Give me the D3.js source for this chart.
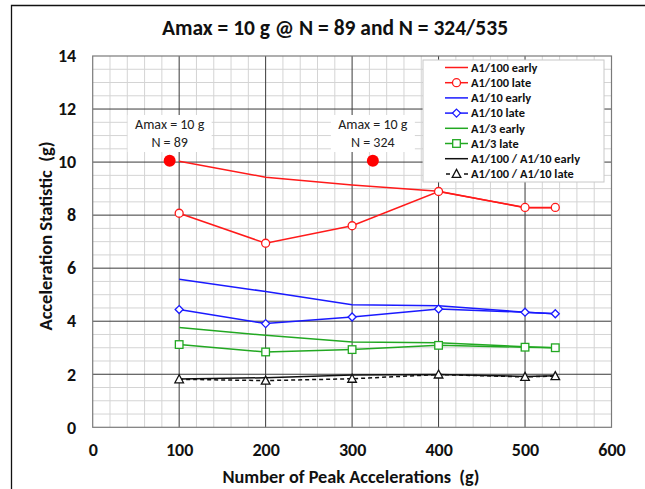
<!DOCTYPE html>
<html><head><meta charset="utf-8">
<script src="https://cdn.jsdelivr.net/npm/d3@7"></script>
<style>
body{margin:0;background:#fff;}
svg{display:block;font-family:Carlito,Lato,"Open Sans",sans-serif;}
text{white-space:pre;}
</style></head>
<body><svg id="c" width="645" height="489"></svg>
<script>
const peakN = [100, 200, 300, 400, 500, 535];
const a100Early = [10.03, 9.43, 9.14, 8.90, 8.28, 8.28];
const a100Late  = [8.07, 6.94, 7.60, 8.89, 8.29, 8.29];
const a10Early  = [5.58, 5.12, 4.62, 4.58, 4.34, 4.28];
const a10Late   = [4.44, 3.91, 4.16, 4.46, 4.34, 4.28];
const a3Early   = [3.76, 3.47, 3.22, 3.19, 3.04, 3.00];
const a3Late    = [3.12, 2.84, 2.93, 3.09, 3.02, 3.00];
const ratioEarly = [1.82, 1.87, 1.97, 1.99, 1.92, 1.94];
const ratioLate  = [1.81, 1.76, 1.83, 1.99, 1.90, 1.93];
const amaxN = [89, 324];
const amaxV = [10.05, 10.05];
const amaxLabels = [["Amax = 10 g","N = 89"],["Amax = 10 g","N = 324"]];
const xTicks = [0,100,200,300,400,500,600];
const yTicks = [0,2,4,6,8,10,12,14];
const titleText = "Amax = 10 g @ N = 89 and N = 324/535";
const xTitle = "Number of Peak Accelerations  (g)";
const yTitle = "Acceleration Statistic  (g)";

const series = [
  {name:"A1/100 early", vals:a100Early, color:"#ff1a1a", marker:null, dash:null},
  {name:"A1/100 late", vals:a100Late, color:"#ff1a1a", marker:"circle", dash:null},
  {name:"A1/10 early", vals:a10Early, color:"#1a1aff", marker:null, dash:null},
  {name:"A1/10 late", vals:a10Late, color:"#1a1aff", marker:"diamond", dash:null},
  {name:"A1/3 early", vals:a3Early, color:"#22a822", marker:null, dash:null},
  {name:"A1/3 late", vals:a3Late, color:"#22a822", marker:"square", dash:null},
  {name:"A1/100 / A1/10 early", vals:ratioEarly, color:"#111", marker:null, dash:null},
  {name:"A1/100 / A1/10 late", vals:ratioLate, color:"#111", marker:"triangle", dash:"4,3"}
];

const svg = d3.select("#c");
const L = 92.7, R = 611.5, T = 56, B = 427.3;
const x = d3.scaleLinear().domain([0,600]).range([L,R]);
const y = d3.scaleLinear().domain([0,14]).range([B,T]);

// outer frame
svg.append("path").attr("d","M11.5,489 L11.5,5.5 L645,5.5").attr("fill","none").attr("stroke","#111").attr("stroke-width",1.3);

// minor grid
const g = svg.append("g");
d3.range(0,601,20).forEach(v=>{ if(v%100) g.append("line").attr("x1",x(v)).attr("x2",x(v)).attr("y1",T).attr("y2",B).attr("stroke","#d4d4d4").attr("stroke-width",1); });
d3.range(0,14.01,0.5).forEach(v=>{ if(v%2) g.append("line").attr("x1",L).attr("x2",R).attr("y1",y(v)).attr("y2",y(v)).attr("stroke","#d4d4d4").attr("stroke-width",1); });
// major grid
xTicks.forEach(v=>{ if(v>0 && v<600) g.append("line").attr("x1",x(v)).attr("x2",x(v)).attr("y1",T).attr("y2",B).attr("stroke","#3a3a3a").attr("stroke-width",1); });
yTicks.forEach(v=>{ if(v>0 && v<14) g.append("line").attr("x1",L).attr("x2",R).attr("y1",y(v)).attr("y2",y(v)).attr("stroke","#3a3a3a").attr("stroke-width",1); });
// plot border
g.append("rect").attr("x",L).attr("y",T).attr("width",R-L).attr("height",B-T).attr("fill","none").attr("stroke","#7a7a7a").attr("stroke-width",1.2);

// axes labels via d3 axes
const xAxis = svg.append("g").attr("transform",`translate(0,${B})`).call(d3.axisBottom(x).tickValues(xTicks).tickSize(0).tickPadding(16));
xAxis.select(".domain").remove();
xAxis.selectAll("text").attr("font-size",18).attr("font-weight","bold").attr("fill","#111").attr("font-family","Carlito,Lato,sans-serif");
const yAxis = svg.append("g").attr("transform",`translate(${L},0)`).call(d3.axisLeft(y).tickValues(yTicks).tickSize(0).tickPadding(16.5));
yAxis.select(".domain").remove();
yAxis.selectAll("text").attr("font-size",18).attr("font-weight","bold").attr("fill","#111").attr("font-family","Carlito,Lato,sans-serif");

// titles
svg.append("text").attr("x",335).attr("y",35).attr("text-anchor","middle").attr("font-size",21.5).attr("font-weight","bold").attr("fill","#111").text(titleText);
svg.append("text").attr("x",351).attr("y",483).attr("text-anchor","middle").attr("font-size",18.3).attr("font-weight","bold").attr("fill","#111").text(xTitle);
svg.append("text").attr("transform","translate(52,236) rotate(-90)").attr("text-anchor","middle").attr("font-size",18.5).attr("font-weight","bold").attr("fill","#111").text(yTitle);

// annotations
amaxN.forEach((n,i)=>{
  const cx = x(n);
  svg.append("rect").attr("x",cx-42).attr("y",115).attr("width",84).attr("height",37).attr("fill","#fff");
  svg.append("text").attr("x",cx).attr("y",129).attr("text-anchor","middle").attr("font-size",14).attr("fill","#222").text(amaxLabels[i][0]);
  svg.append("text").attr("x",cx).attr("y",146.5).attr("text-anchor","middle").attr("font-size",14).attr("fill","#222").text(amaxLabels[i][1]);
});

function drawMarker(sel, type, cx, cy, color){
  if(type==="circle") sel.append("circle").attr("cx",cx).attr("cy",cy).attr("r",4).attr("fill","#fff").attr("stroke",color).attr("stroke-width",1.3);
  else if(type==="diamond") sel.append("path").attr("d",`M${cx},${cy-4} L${cx+4},${cy} L${cx},${cy+4} L${cx-4},${cy} Z`).attr("fill","#fff").attr("stroke",color).attr("stroke-width",1.3);
  else if(type==="square") sel.append("rect").attr("x",cx-3.8).attr("y",cy-3.8).attr("width",7.6).attr("height",7.6).attr("fill","#fff").attr("stroke",color).attr("stroke-width",1.3);
  else if(type==="triangle") sel.append("path").attr("d",`M${cx},${cy-4.5} L${cx+4.3},${cy+3.5} L${cx-4.3},${cy+3.5} Z`).attr("fill","#fff").attr("stroke",color).attr("stroke-width",1.3);
}

const line = d3.line().x(d=>x(d[0])).y(d=>y(d[1]));
const plot = svg.append("g");
series.forEach(s=>{
  const pts = peakN.map((n,i)=>[n,s.vals[i]]);
  const p = plot.append("path").attr("d",line(pts)).attr("fill","none").attr("stroke",s.color).attr("stroke-width",1.5);
  if(s.dash) p.attr("stroke-dasharray",s.dash);
});
series.forEach(s=>{
  if(!s.marker) return;
  peakN.forEach((n,i)=>drawMarker(plot,s.marker,x(n),y(s.vals[i]),s.color));
});
// Amax dots
amaxN.forEach((n,i)=>plot.append("circle").attr("cx",x(n)).attr("cy",y(amaxV[i])).attr("r",6).attr("fill","#ff0000"));

// legend
const lg = svg.append("g");
lg.append("rect").attr("x",423).attr("y",60).attr("width",181).attr("height",122).attr("fill","#fff").attr("stroke","#c8c8c8").attr("stroke-width",1);
series.forEach((s,i)=>{
  const yy = 67.5 + i*15.2;
  const ln = lg.append("line").attr("x1",445).attr("x2",468).attr("y1",yy).attr("y2",yy).attr("stroke",s.color).attr("stroke-width",1.5);
  if(s.dash) ln.attr("stroke-dasharray","4,5").attr("stroke-dashoffset",-1);
  if(s.marker) drawMarker(lg,s.marker,456.5,yy,s.color);
  lg.append("text").attr("x",471).attr("y",yy+4.2).attr("font-size",12.4).attr("font-weight","bold").attr("fill","#111").text(s.name);
});
</script></body></html>
